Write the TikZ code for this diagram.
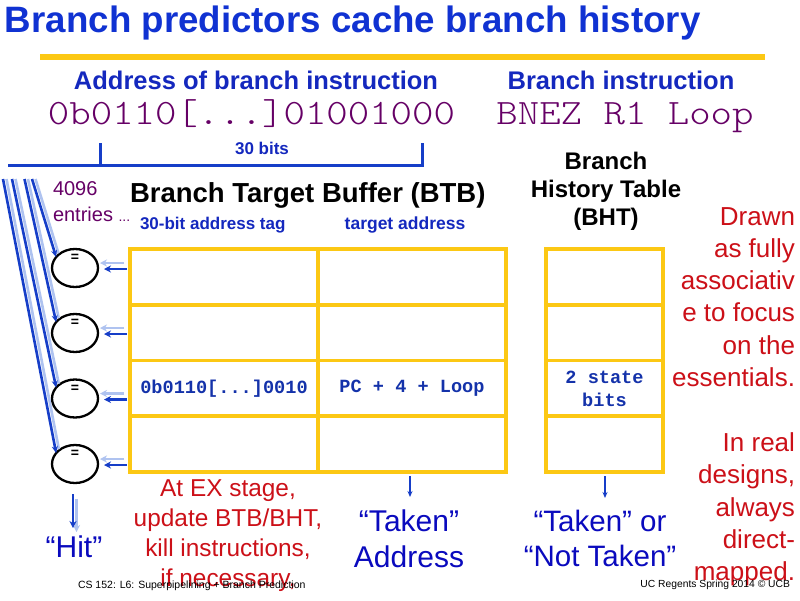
\documentclass[tikz,border=0pt]{standalone}
\usepackage{fontspec}
\setmainfont{Liberation Sans}
\setmonofont{Liberation Mono}
\newfontfamily\thinmono{lmmonolt10-regular}[Extension=.otf]
\usetikzlibrary{shapes.geometric,arrows.meta}
\definecolor{ttlblue}{RGB}{16,50,210}
\definecolor{hdblue}{RGB}{20,40,190}
\definecolor{monoblue}{RGB}{20,50,170}
\definecolor{textblue}{RGB}{10,10,190}
\definecolor{redtxt}{RGB}{204,16,24}
\definecolor{gold}{RGB}{252,200,20}
\definecolor{linkblue}{RGB}{22,62,200}
\definecolor{shadowblue}{RGB}{175,195,240}
\definecolor{purp}{RGB}{102,0,102}
\newcommand\myfs[2]{\fontsize{#1}{#2}\selectfont}
\begin{document}
\begin{tikzpicture}[x=1pt,y=-1pt,
  every node/.style={inner sep=0pt,outer sep=0pt},
  cell/.style={draw=gold,line width=3.6pt,rectangle},
  btbcell/.style={cell,minimum width=188pt,minimum height=55.75pt},
  bhtcell/.style={cell,minimum width=117pt,minimum height=55.75pt},
  celltext/.style={font=\myfs{18.6}{23}\ttfamily\bfseries,text=monoblue,align=center},
  cmp/.style={ellipse,draw=black,line width=2.3pt,minimum width=46pt,minimum height=38pt},
  eqs/.style={font=\myfs{14}{14}\bfseries},
  mainarrow/.style={draw=linkblue,line width=2.4pt,-{Stealth[length=7pt,width=7pt]}},
  shadowarrow/.style={draw=shadowblue,line width=2.4pt,-{Stealth[length=7pt,width=7pt]}},
  slantarrow/.style={draw=linkblue,line width=2.6pt,-{Stealth[length=7pt,width=6pt]}},
  shadowline/.style={draw=shadowblue,line width=2.6pt,shorten >=4pt},
  thinarrow/.style={draw=linkblue,line width=1.4pt,-{Stealth[length=6pt,width=5pt]}},
  bracket/.style={draw=linkblue,line width=3pt},
  thinval/.style={font=\myfs{35.7}{38}\thinmono,text=purp},
  redblock/.style={text=redtxt,font=\myfs{26}{32.2}},
  bluebig/.style={text=textblue,font=\myfs{30}{36}}
]
\fill[white] (0,0) rectangle (800,600);
\useasboundingbox (0,0) rectangle (800,600);

% title and rule
\node[anchor=base west,font=\myfs{36.7}{40}\bfseries,text=ttlblue] (title) at (5,32) {Branch predictors cache branch history};
\fill[gold] (40,54) rectangle (765,60);

% headers
\node[anchor=base,font=\myfs{25.5}{28}\bfseries,text=hdblue] (addrh) at (256,89) {Address of branch instruction};
\node[anchor=base,font=\myfs{25.5}{28}\bfseries,text=hdblue] (brh) at (621,89) {Branch instruction};
\node[anchor=base,thinval] (addrv) at (251.5,124) {\scalebox{1.143}[1]{0b0110[...]01001000}};
\node[anchor=base,thinval] (brv) at (625,124) {\scalebox{1.143}[1]{BNEZ R1 Loop}};

% 30 bits bracket
\node[anchor=base,font=\myfs{17}{19}\bfseries,text=hdblue] (bits) at (262,154) {30 bits};
\coordinate (bl) at (8,165);
\coordinate (br) at (422,165);
\coordinate (brt) at (422,143);
\coordinate (tkb) at (100,165);
\coordinate (tkt) at (100,143);
\draw[bracket] (bl) -- (br) -- (brt);
\draw[bracket] (tkb) -- (tkt);

% BTB labels
\node[anchor=base west,font=\myfs{27.5}{30}\bfseries,text=black] (btbt) at (130,202) {Branch Target Buffer (BTB)};
\node[anchor=north west,align=left,font=\myfs{20}{26},text=purp] (entries) at (53,182) {4096\\entries {\myfs{14}{14}...}};
\node[anchor=base west,font=\myfs{17}{19}\bfseries,text=hdblue] (tagh) at (140,229) {30-bit address tag};
\node[anchor=base,font=\myfs{17.5}{19}\bfseries,text=hdblue] (targh) at (405,229) {target address};

% BHT label
\node[anchor=north,align=center,font=\myfs{24}{28}\bfseries,text=black] (bhtt) at (606,152.5) {Branch\\History Table\\(BHT)};

% BTB table
\node[btbcell] (a1) at (224,276.875) {};
\node[btbcell] (a2) at (224,332.625) {};
\node[btbcell,celltext] (a3) at (224,388.375) {0b0110[...]0010};
\node[btbcell] (a4) at (224,444.125) {};
\node[btbcell] (b1) at (412,276.875) {};
\node[btbcell] (b2) at (412,332.625) {};
\node[btbcell,celltext] (b3) at (412,388.375) {PC + 4 + Loop};
\node[btbcell] (b4) at (412,444.125) {};

% BHT table
\node[bhtcell] (c1) at (604.5,276.875) {};
\node[bhtcell] (c2) at (604.5,332.625) {};
\node[bhtcell,celltext] (c3) at (604.5,388.375) {2 state\\bits};
\node[bhtcell] (c4) at (604.5,444.125) {};

% comparators
\node[cmp] (e1) at (75,268) {};
\node[cmp] (e2) at (75,333) {};
\node[cmp] (e3) at (75,398.5) {};
\node[cmp] (e4) at (75,464) {};
\foreach \i in {1,...,4} {
  \node[eqs] (q\i) at ([yshift=-9pt]e\i.north) {=};
}

% arrows from table to comparators
\foreach \i in {1,...,4} {
  \draw[shadowarrow] ([xshift=-6pt,yshift=5pt]e\i.east -| a1.west) -- ([xshift=2pt,yshift=5pt]e\i.east);
  \draw[mainarrow] ([xshift=-3pt,yshift=-1pt]e\i.east -| a1.west) -- ([xshift=6pt,yshift=-1pt]e\i.east);
}

% slanted lines from the address
\coordinate (s1) at (32,179);
\coordinate (s2) at (24.5,179);
\coordinate (s3) at (12,179);
\coordinate (s4) at (3,179);
\foreach \i in {1,...,4} {
  \draw[shadowline] ([xshift=3.5pt]s\i) -- ([xshift=3.5pt]e\i.150);
}
\foreach \i in {1,...,4} {
  \draw[slantarrow] (s\i) -- (e\i.150);
}

% hit arrow
\coordinate (h1) at (73,528);
\draw[shadowarrow] ([xshift=1.5pt,yshift=-16pt]e4.south) -- ([xshift=3.5pt,yshift=-4pt]h1);
\draw[mainarrow] ([xshift=-2pt,yshift=-11pt]e4.south) -- (h1);
\node[anchor=base,bluebig] (hit) at (74,557) {“Hit”};

% outputs
\coordinate (tk1) at (410,497);
\coordinate (tk2) at (605,498);
\draw[thinarrow] ([yshift=-4pt]b4.south -| tk1) -- (tk1);
\draw[thinarrow] ([yshift=-4pt]c4.south -| tk2) -- (tk2);
\node[anchor=north,align=center,bluebig] (taken) at (409,510) {“Taken”\\Address};
\node[anchor=north,align=center,font=\myfs{29.5}{35.5},text=textblue] (takenor) at (600,510) {“Taken” or\\“Not Taken”};

% red notes
\node[anchor=north,align=center,text=redtxt,font=\myfs{24.4}{30}] (exnote) at (228,479.5) {At EX stage,\\update BTB/BHT,\\kill instructions,\\if necessary,};
\node[anchor=north east,align=right,redblock] (note1) at (795,207.4) {Drawn\\as fully\\associativ\\e to focus\\on the\\essentials.};
\node[anchor=north east,align=right,redblock] (note2) at (795,432.8) {In real\\designs,\\always\\direct-\\mapped.};

% footers
\node[anchor=base west,font=\myfs{10.5}{12},text=black] (foot1) at (78,588) {CS 152: L6: Superpipelining + Branch Prediction};
\node[anchor=base east,font=\myfs{10.3}{12},text=black] (foot2) at (790,587) {UC Regents Spring 2014 © UCB};
\end{tikzpicture}
\end{document}
